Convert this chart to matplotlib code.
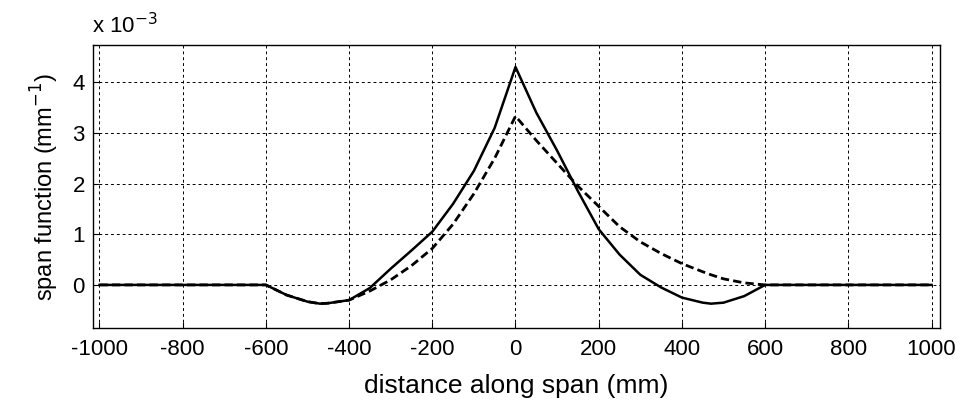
import matplotlib
matplotlib.use("Agg")
import matplotlib.pyplot as plt

plt.rcParams['font.family'] = ['Liberation Sans', 'DejaVu Sans']
plt.rcParams['axes.unicode_minus'] = False

# distance along span (mm)
x = [-1000, -600, -550, -500, -470, -450, -400, -350, -300, -250, -200, -150, -100, -50, 0,
     50, 100, 150, 200, 250, 300, 350, 400, 450, 470, 500, 550, 600, 1000]
# span function, x 10^-3 mm^-1
solid = [0, 0, -0.2, -0.33, -0.37, -0.36, -0.3, -0.06, 0.32, 0.68, 1.05, 1.6, 2.25, 3.1, 4.3,
         3.4, 2.65, 1.85, 1.1, 0.6, 0.2, -0.05, -0.25, -0.35, -0.37, -0.35, -0.22, 0, 0]
dashed = [0, 0, -0.2, -0.33, -0.37, -0.36, -0.3, -0.12, 0.1, 0.38, 0.72, 1.2, 1.8, 2.5, 3.33,
          2.85, 2.4, 1.95, 1.55, 1.15, 0.85, 0.62, 0.42, 0.26, 0.2, 0.12, 0.04, 0, 0]

fig = plt.figure(figsize=(9.61, 4.0), dpi=100)
ax = fig.add_axes([0.097, 0.18, 0.881, 0.707])
ax.plot(x, dashed, color='black', lw=2.0, linestyle=(0, (3, 1.5)))
ax.plot(x, solid, color='black', lw=1.8)

ax.set_xlim(-1015, 1020)
ax.set_ylim(-0.85, 4.73)
ax.set_xticks(range(-1000, 1001, 200))
ax.set_yticks(range(0, 5))
ax.grid(True, color='black', linestyle=(0, (3, 3)), linewidth=0.7)
ax.tick_params(direction='in', labelsize=16, length=4)
ax.tick_params(axis='x', pad=8)
ax.tick_params(axis='y', pad=6)
for s in ax.spines.values():
    s.set_linewidth(1.0)

ax.text(-0.002, 1.025, r'x 10$^{-3}$', transform=ax.transAxes, fontsize=16, ha='left', va='bottom')
ax.set_xlabel('distance along span (mm)', fontsize=19, labelpad=10)
ax.set_ylabel(r'span function (mm$^{-1}$)', fontsize=17, labelpad=8)

fig.savefig('out.png', dpi=100)
